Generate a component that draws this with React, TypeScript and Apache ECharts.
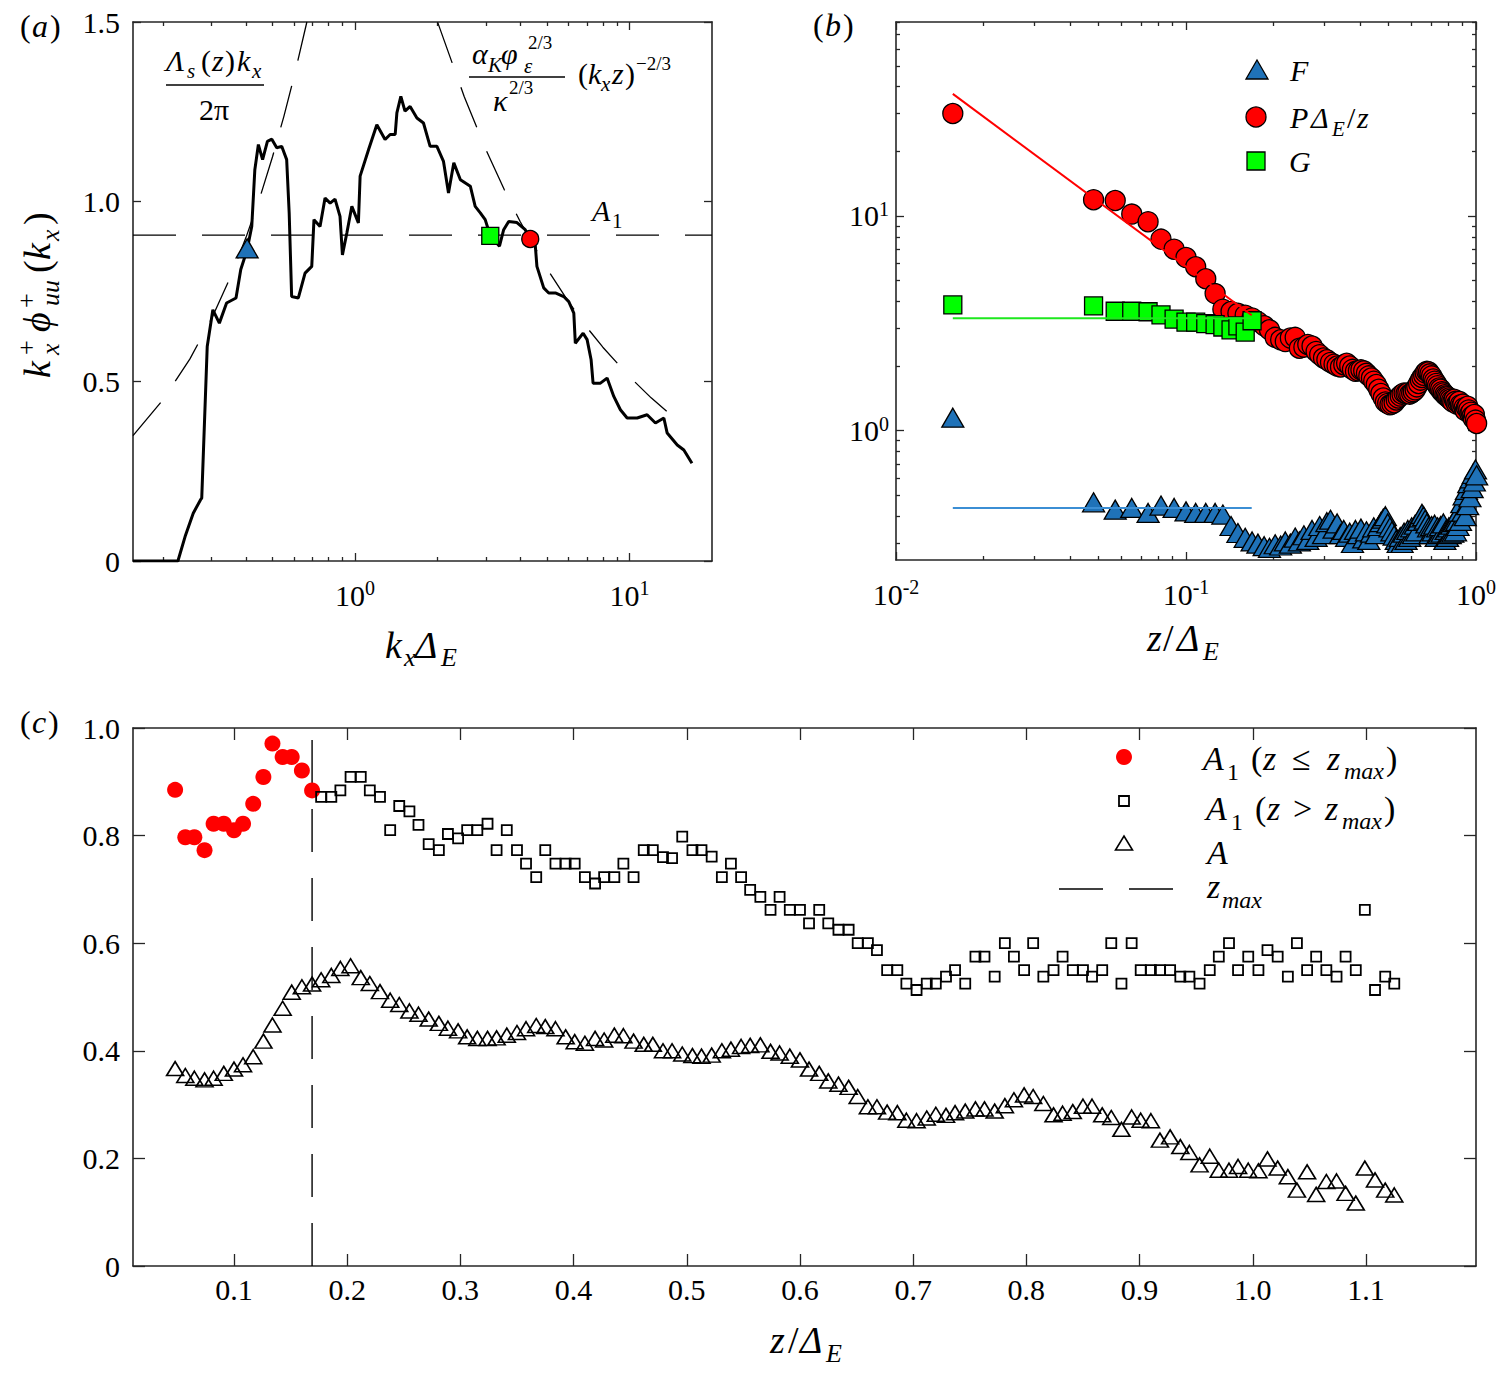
import { useEffect, useRef } from "react";
import * as echarts from "echarts";

const SERIF = "'Liberation Serif', 'Times New Roman', Times, serif";
const INK = "#000";
const FRAME = "#262626";
const BLUE = "#1f72b8";
const BLUE_LINE = "#3b8ed4";
const RED = "#ff0000";
const GREEN = "#00ff00";
const GREEN_LINE = "#1ee81e";

// ---------- (a) premultiplied spectrum ----------
const xRangeA = [0.155, 20];
const yTicksA = [0, 0.5, 1.0, 1.5];
const xMajorA = [1, 10];
const xMinorA = [0.2, 0.3, 0.4, 0.5, 0.6, 0.7, 0.8, 0.9, 2, 3, 4, 5, 6, 7, 8, 9];

const specK = [
  0.155, 0.226, 0.24, 0.257, 0.273, 0.276, 0.289, 0.303, 0.32, 0.34, 0.368, 0.383, 0.404, 0.42,
  0.431, 0.444, 0.46, 0.479, 0.497, 0.518, 0.54, 0.563, 0.575, 0.587, 0.621, 0.657, 0.695, 0.708,
  0.745, 0.777, 0.811, 0.845, 0.881, 0.899, 0.933, 0.973, 1.028, 1.043, 1.12, 1.2, 1.286, 1.342,
  1.4, 1.42, 1.468, 1.52, 1.587, 1.68, 1.775, 1.877, 1.987, 2.1, 2.19, 2.29, 2.42, 2.63, 2.74,
  2.86, 2.98, 3.11, 3.36, 3.48, 3.63, 3.89, 4.17, 4.35, 4.54, 4.6, 4.87, 5.08, 5.37, 5.76, 6.01,
  6.27, 6.35, 6.78, 7.01, 7.25, 7.37, 7.84, 8.29, 8.77, 9.27, 9.81, 10.67, 11.6, 12.44, 13.35,
  13.73, 14.94, 15.79, 16.9,
];
const specPhi = [
  0, 0, 0.068, 0.133, 0.17, 0.175, 0.597, 0.699, 0.662, 0.718, 0.732, 0.811, 0.866, 0.931,
  1.089, 1.159, 1.117, 1.168, 1.174, 1.15, 1.154, 1.117, 0.969, 0.736, 0.732, 0.801, 0.82, 0.95,
  0.931, 1.01, 0.996, 1.007, 0.959, 0.852, 0.913, 0.987, 0.941, 1.071, 1.145, 1.214, 1.173, 1.187,
  1.187, 1.247, 1.293, 1.252, 1.265, 1.233, 1.219, 1.154, 1.154, 1.112, 1.024, 1.108, 1.061, 1.043, 0.987,
  0.969, 0.95, 0.905, 0.876, 0.922, 0.945, 0.942, 0.922, 0.896, 0.876, 0.82, 0.76, 0.746, 0.746, 0.736, 0.722,
  0.69, 0.606, 0.634, 0.616, 0.56, 0.495, 0.495, 0.509, 0.458, 0.421, 0.398, 0.398, 0.407, 0.384, 0.398,
  0.356, 0.323, 0.309, 0.272,
];
// Λ_s(z) k_x / 2π
const fitLinK = [0.155, 0.2, 0.25, 0.3, 0.35, 0.4, 0.45, 0.5, 0.55, 0.6, 0.667];
const fitLinPhi = [0.349, 0.45, 0.5625, 0.675, 0.7875, 0.9, 1.0125, 1.125, 1.2375, 1.35, 1.5];
// α_K φ_ε^{2/3} κ^{-2/3} (k_x z)^{-2/3}
const fitKolK = [2.0, 2.5, 3, 3.5, 4, 5, 6, 7, 8, 10, 12, 14.5];
const fitKolPhi = [1.499, 1.292, 1.144, 1.033, 0.944, 0.814, 0.721, 0.65, 0.595, 0.513, 0.454, 0.4];
const a1Level = 0.907;
const crossF = [0.404, 0.87];
const crossG = [3.11, 0.905];
const crossP = [4.35, 0.896];

// ---------- (c) heights z/Δ_E and A values ----------
const zC = [
  0.048, 0.057, 0.065, 0.074, 0.082, 0.091, 0.1, 0.108, 0.117, 0.126,
  0.134, 0.143, 0.151, 0.16, 0.169, 0.177, 0.186, 0.194, 0.203, 0.212,
  0.22, 0.229, 0.238, 0.246, 0.255, 0.263, 0.272, 0.281, 0.289, 0.298,
  0.306, 0.315, 0.324, 0.332, 0.341, 0.35, 0.358, 0.367, 0.375, 0.384,
  0.393, 0.401, 0.41, 0.419, 0.427, 0.436, 0.444, 0.453, 0.462, 0.47,
  0.479, 0.487, 0.496, 0.505, 0.513, 0.522, 0.531, 0.539, 0.548, 0.556,
  0.565, 0.574, 0.582, 0.591, 0.6, 0.608, 0.617, 0.625, 0.634, 0.643,
  0.651, 0.66, 0.668, 0.677, 0.686, 0.694, 0.703, 0.712, 0.72, 0.729,
  0.737, 0.746, 0.755, 0.763, 0.772, 0.781, 0.789, 0.798, 0.806, 0.815,
  0.824, 0.832, 0.841, 0.85, 0.858, 0.867, 0.875, 0.884, 0.893, 0.901,
  0.91, 0.918, 0.927, 0.936, 0.944, 0.953, 0.962, 0.97, 0.979, 0.987,
  0.996, 1.005, 1.013, 1.022, 1.031, 1.039, 1.048, 1.056, 1.065, 1.074,
  1.082, 1.091, 1.099, 1.108, 1.117, 1.125,
];
const zMax = 0.169;
const a1Low = [0.885, 0.797, 0.797, 0.773, 0.822, 0.822, 0.81, 0.822, 0.859, 0.909, 0.971, 0.946, 0.946, 0.921, 0.884];
const a1High = [
  0.872, 0.872, 0.884, 0.909, 0.909, 0.884, 0.872, 0.81, 0.855, 0.845, 0.82, 0.784, 0.773, 0.803,
  0.795, 0.81, 0.81, 0.822, 0.773, 0.81, 0.773, 0.748, 0.723, 0.773, 0.748, 0.748, 0.748, 0.723,
  0.711, 0.723, 0.723, 0.748, 0.723, 0.773, 0.773, 0.76, 0.758, 0.798, 0.773, 0.773, 0.761, 0.723,
  0.748, 0.723, 0.699, 0.686, 0.662, 0.686, 0.662, 0.662, 0.637, 0.662, 0.637, 0.625, 0.625, 0.6,
  0.6, 0.587, 0.55, 0.55, 0.525, 0.513, 0.525, 0.525, 0.538, 0.55, 0.525, 0.575, 0.575, 0.538,
  0.6, 0.575, 0.55, 0.6, 0.538, 0.55, 0.575, 0.55, 0.55, 0.538, 0.55, 0.6, 0.525, 0.6,
  0.55, 0.55, 0.55, 0.55, 0.538, 0.538, 0.525, 0.55, 0.575, 0.6, 0.55, 0.575, 0.55, 0.587,
  0.575, 0.538, 0.6, 0.55, 0.575, 0.55, 0.538, 0.575, 0.55, 0.662, 0.513, 0.538, 0.525,
];
const aC = [
  0.367, 0.354, 0.349, 0.346, 0.349, 0.358, 0.366, 0.374, 0.389, 0.418, 0.448, 0.479, 0.509, 0.519,
  0.524, 0.532, 0.54, 0.553, 0.558, 0.536, 0.525, 0.51, 0.494, 0.486, 0.474, 0.468, 0.459, 0.451,
  0.442, 0.437, 0.426, 0.423, 0.423, 0.424, 0.429, 0.434, 0.441, 0.447, 0.445, 0.441, 0.426, 0.417,
  0.414, 0.423, 0.42, 0.429, 0.428, 0.418, 0.412, 0.412, 0.4, 0.4, 0.394, 0.391, 0.39, 0.392,
  0.4, 0.403, 0.408, 0.41, 0.411, 0.399, 0.396, 0.39, 0.383, 0.366, 0.358, 0.344, 0.338, 0.332,
  0.315, 0.296, 0.296, 0.286, 0.285, 0.271, 0.27, 0.275, 0.282, 0.28, 0.285, 0.288, 0.292, 0.292,
  0.288, 0.298, 0.309, 0.318, 0.315, 0.302, 0.281, 0.284, 0.287, 0.297, 0.297, 0.281, 0.276, 0.254,
  0.277, 0.271, 0.27, 0.234, 0.24, 0.222, 0.211, 0.188, 0.204, 0.178, 0.178, 0.185, 0.178, 0.177,
  0.199, 0.182, 0.166, 0.141, 0.175, 0.133, 0.157, 0.158, 0.135, 0.117, 0.182, 0.16, 0.141, 0.132,
];
const xRangeC = [0.0108, 1.1972];
const xTicksC = [0.1, 0.2, 0.3, 0.4, 0.5, 0.6, 0.7, 0.8, 0.9, 1.0, 1.1];
const yTicksC = [0, 0.2, 0.4, 0.6, 0.8, 1.0];

// ---------- (b) F, PΔ_E/z and G against z/Δ_E ----------
const zB = [0.0157, ...zC.slice(0, 112)];
const fB = [
  1.15,
  0.464, 0.429, 0.437, 0.414, 0.448, 0.437, 0.421, 0.414, 0.414, 0.414,
  0.407, 0.36, 0.334, 0.317, 0.305, 0.298, 0.29, 0.285, 0.296, 0.292,
  0.305, 0.298, 0.318, 0.305, 0.326, 0.31, 0.345, 0.32, 0.36, 0.33,
  0.375, 0.385, 0.35, 0.37, 0.33, 0.345, 0.32, 0.335, 0.3, 0.345,
  0.33, 0.35, 0.315, 0.34, 0.31, 0.335, 0.355, 0.33, 0.36, 0.375,
  0.39, 0.4, 0.37, 0.355, 0.34, 0.325, 0.31, 0.3, 0.32, 0.3,
  0.335, 0.31, 0.345, 0.32, 0.355, 0.33, 0.365, 0.34, 0.38, 0.395,
  0.41, 0.4, 0.385, 0.37, 0.355, 0.33, 0.36, 0.34, 0.365, 0.32,
  0.355, 0.33, 0.36, 0.335, 0.37, 0.31, 0.345, 0.32, 0.355, 0.33,
  0.365, 0.335, 0.375, 0.34, 0.38, 0.36, 0.42, 0.38, 0.46, 0.42,
  0.5, 0.4, 0.53, 0.45, 0.57, 0.49, 0.6, 0.54, 0.63, 0.58,
  0.66, 0.62,
];
const pB = [
  30.0,
  11.9, 11.8, 10.2, 9.4, 7.8, 7.0, 6.4, 5.8, 5.1, 4.35,
  3.68, 3.59, 3.52, 3.45, 3.35, 3.22, 3.08, 2.95, 2.72, 2.65,
  2.6, 2.7, 2.72, 2.42, 2.45, 2.52, 2.48, 2.34, 2.26, 2.18,
  2.14, 2.08, 2.04, 2.0, 1.98, 2.03, 2.06, 2.0, 1.93, 1.89,
  1.9, 1.92, 1.9, 1.85, 1.8, 1.76, 1.7, 1.64, 1.56, 1.49,
  1.42, 1.36, 1.34, 1.32, 1.33, 1.35, 1.39, 1.42, 1.45, 1.48,
  1.5, 1.49, 1.5, 1.48, 1.5, 1.52, 1.55, 1.6, 1.66, 1.72,
  1.77, 1.81, 1.86, 1.89, 1.88, 1.84, 1.8, 1.74, 1.7, 1.66,
  1.62, 1.58, 1.56, 1.52, 1.5, 1.47, 1.45, 1.44, 1.42, 1.4,
  1.38, 1.36, 1.4, 1.37, 1.33, 1.35, 1.37, 1.32, 1.3, 1.33,
  1.28, 1.24, 1.28, 1.3, 1.25, 1.2, 1.22, 1.17, 1.14, 1.19,
  1.12, 1.08,
];
const gB = [3.85, 3.81, 3.6, 3.6, 3.58, 3.46, 3.31, 3.2, 3.2, 3.15, 3.12, 3.04, 2.95, 3.08, 2.88, 3.25];
const fitZ = [0.0157, 0.1685];
const fitP = [37, 3.45];
const fitG = [3.34, 3.34];
const fitF = [0.437, 0.437];
const xRangeB = [0.01, 1];
const yRangeB = [0.25, 80];
const xMajorB = [0.01, 0.1, 1];
const xMinorB = [0.02, 0.03, 0.04, 0.05, 0.06, 0.07, 0.08, 0.09, 0.2, 0.3, 0.4, 0.5, 0.6, 0.7, 0.8, 0.9];
const yMajorB = [1, 10];
const yMinorB = [0.3, 0.4, 0.5, 0.6, 0.7, 0.8, 0.9, 2, 3, 4, 5, 6, 7, 8, 9, 20, 30, 40, 50, 60, 70, 80];

const lg = Math.log10;
const pairs = (xs: number[], ys: number[]) => ys.map((y, i) => [xs[i], y]);

const powRich = {
  b: { fontFamily: SERIF, fontSize: 30, lineHeight: 34, color: INK },
  s: { fontFamily: SERIF, fontSize: 20, lineHeight: 17, verticalAlign: "top", color: INK },
};
const powLabel = (v: number) => `{b|10}{s|${Math.round(v)}}`;

function frame(
  gridIndex: number,
  position: string,
  min: number,
  max: number,
  ticks: number[],
  len: number,
  showLine = true,
  label: any = null
) {
  return {
    type: "value",
    gridIndex,
    position,
    min,
    max,
    axisLine: { show: showLine, onZero: false, lineStyle: { color: FRAME, width: 1.6 } },
    axisTick: { show: true, inside: true, length: len, customValues: ticks, lineStyle: { color: FRAME, width: 1.3 } },
    axisLabel: label
      ? { show: true, color: INK, fontFamily: SERIF, fontSize: 30, ...label }
      : { show: false },
    splitLine: { show: false },
    minorTick: { show: false },
  };
}

function hiddenLog(gridIndex: number, min: number, max: number) {
  return { type: "log", logBase: 10, gridIndex, min, max, show: false, splitLine: { show: false } };
}

function tx(text: string, x: number, y: number, size: number, italic = false, align = "left") {
  return {
    type: "text",
    x,
    y,
    silent: true,
    z: 20,
    style: {
      text,
      fill: INK,
      font: `${italic ? "italic " : ""}${size}px ${SERIF}`,
      align,
      verticalAlign: "middle",
      textAlign: align,
      textVerticalAlign: "middle",
    },
  };
}

function seg(x1: number, y1: number, x2: number, y2: number, w = 1.3) {
  return { type: "line", silent: true, z: 20, shape: { x1, y1, x2, y2 }, style: { stroke: INK, lineWidth: w } };
}

const DASH = [43, 26];

function buildOption(): any {
  const fmtDec = (v: number) => (v === 0 ? "0" : v.toFixed(1));

  const xAxis = [
    hiddenLog(0, xRangeA[0], xRangeA[1]),
    frame(0, "bottom", lg(xRangeA[0]), lg(xRangeA[1]), xMajorA.map(lg), 8, true, {
      customValues: xMajorA.map(lg), formatter: powLabel, rich: powRich, margin: 17,
    }),
    frame(0, "bottom", lg(xRangeA[0]), lg(xRangeA[1]), xMinorA.map(lg), 4, false),
    frame(0, "top", lg(xRangeA[0]), lg(xRangeA[1]), xMajorA.map(lg), 8, true),
    frame(0, "top", lg(xRangeA[0]), lg(xRangeA[1]), xMinorA.map(lg), 4, false),

    hiddenLog(1, xRangeB[0], xRangeB[1]),
    frame(1, "bottom", lg(xRangeB[0]), lg(xRangeB[1]), xMajorB.map(lg), 8, true, {
      customValues: xMajorB.map(lg), formatter: powLabel, rich: powRich, margin: 17,
    }),
    frame(1, "bottom", lg(xRangeB[0]), lg(xRangeB[1]), xMinorB.map(lg), 4, false),
    frame(1, "top", lg(xRangeB[0]), lg(xRangeB[1]), xMajorB.map(lg), 8, true),
    frame(1, "top", lg(xRangeB[0]), lg(xRangeB[1]), xMinorB.map(lg), 4, false),

    frame(2, "bottom", xRangeC[0], xRangeC[1], xTicksC, 12, true, {
      customValues: xTicksC, formatter: (v: number) => v.toFixed(1), margin: 8, lineHeight: 30,
    }),
    frame(2, "top", xRangeC[0], xRangeC[1], xTicksC, 12, true),
  ];

  const yAxis = [
    frame(0, "left", 0, 1.5, yTicksA, 8, true, { customValues: yTicksA, formatter: fmtDec, margin: 13 }),
    frame(0, "right", 0, 1.5, yTicksA, 8, true),

    hiddenLog(1, yRangeB[0], yRangeB[1]),
    frame(1, "left", lg(yRangeB[0]), lg(yRangeB[1]), yMajorB.map(lg), 8, true, {
      customValues: yMajorB.map(lg), formatter: powLabel, rich: powRich, margin: 7,
    }),
    frame(1, "left", lg(yRangeB[0]), lg(yRangeB[1]), yMinorB.map(lg), 4, false),
    frame(1, "right", lg(yRangeB[0]), lg(yRangeB[1]), yMajorB.map(lg), 8, true),
    frame(1, "right", lg(yRangeB[0]), lg(yRangeB[1]), yMinorB.map(lg), 4, false),

    frame(2, "left", 0, 1, yTicksC, 12, true, { customValues: yTicksC, formatter: fmtDec, margin: 13 }),
    frame(2, "right", 0, 1, yTicksC, 12, true),
  ];

  const line = (name: string, data: any[], xi: number, yi: number, style: any, z = 3) => ({
    name, type: "line", xAxisIndex: xi, yAxisIndex: yi, data, symbol: "none", showSymbol: false,
    silent: true, z, lineStyle: style, clip: true,
  });
  const dots = (name: string, data: any[], xi: number, yi: number, symbol: string, size: any, item: any, z = 4) => ({
    name, type: "scatter", xAxisIndex: xi, yAxisIndex: yi, data, symbol, symbolSize: size,
    silent: true, z, clip: false, itemStyle: { opacity: 1, ...item },
  });

  const series = [
    // (a)
    line("spectrum", pairs(specK, specPhi), 0, 0, { color: INK, width: 3 }, 3),
    line("linear fit", pairs(fitLinK, fitLinPhi), 0, 0, { color: INK, width: 1.3, type: DASH }, 2),
    line("-2/3 fit", pairs(fitKolK, fitKolPhi), 0, 0, { color: INK, width: 1.3, type: DASH }, 2),
    line("A1 level", [[xRangeA[0], a1Level], [xRangeA[1], a1Level]], 0, 0, { color: INK, width: 1.3, type: DASH }, 2),
    dots("F cross", [crossF], 0, 0, "triangle", [22, 19], { color: BLUE, borderColor: INK, borderWidth: 1.3 }, 5),
    dots("G cross", [crossG], 0, 0, "rect", 17, { color: GREEN, borderColor: INK, borderWidth: 1.3 }, 5),
    dots("P cross", [crossP], 0, 0, "circle", 17, { color: RED, borderColor: INK, borderWidth: 1.3 }, 5),
    // (b)
    dots("F", pairs(zB, fB), 5, 2, "triangle", [22, 19], { color: BLUE, borderColor: INK, borderWidth: 1.3 }, 4),
    dots("PΔE/z", pairs(zB, pB), 5, 2, "circle", 20, { color: RED, borderColor: INK, borderWidth: 1.3 }, 5),
    dots("G", pairs(zB, gB), 5, 2, "rect", 18, { color: GREEN, borderColor: INK, borderWidth: 1.3 }, 6),
    line("P fit", pairs(fitZ, fitP), 5, 2, { color: RED, width: 2 }, 7),
    line("G fit", pairs(fitZ, fitG), 5, 2, { color: GREEN_LINE, width: 2 }, 7),
    line("F fit", pairs(fitZ, fitF), 5, 2, { color: BLUE_LINE, width: 2 }, 7),
    // (c)
    line("zmax", [[zMax, 0], [zMax, 1]], 10, 7, { color: INK, width: 1.4, type: DASH }, 1),
    dots("A1 (z<=zmax)", pairs(zC.slice(0, 15), a1Low), 10, 7, "circle", 16, { color: RED }, 4),
    dots("A1 (z>zmax)", pairs(zC.slice(15), a1High), 10, 7, "rect", 10, {
      color: "rgba(0,0,0,0)", borderColor: INK, borderWidth: 1.8,
    }, 4),
    dots("A", pairs(zC, aC), 10, 7, "triangle", [17, 14], {
      color: "rgba(0,0,0,0)", borderColor: INK, borderWidth: 1.6,
    }, 4),
  ];

  const yTitleA = {
    type: "group",
    x: 37,
    y: 292,
    rotation: Math.PI / 2,
    silent: true,
    children: [
      tx("k", -86, 0, 38, true),
      tx("+", -63, -11, 26),
      tx("x", -63, 13, 26, true),
      tx("ϕ", -40, 0, 38, true),
      tx("+", -16, -11, 26),
      tx("uu", -14, 13, 26, true),
      tx("(", 19, 0, 38),
      tx("k", 32, 0, 38, true),
      tx("x", 51, 13, 26, true),
      tx(")", 67, 0, 38),
    ],
  };

  const graphic = [
    // panel tags
    tx("(", 20, 26, 32), tx("a", 32, 26, 32, true), tx(")", 50, 26, 32),
    tx("(", 813, 25, 32), tx("b", 825, 25, 32, true), tx(")", 843, 25, 32),
    tx("(", 20, 722, 32), tx("c", 32, 722, 32, true), tx(")", 48, 722, 32),

    // (a) axis titles
    yTitleA,
    tx("k", 385, 645, 38, true), tx("x", 404, 657, 26, true),
    tx("Δ", 415, 645, 38, true), tx("E", 441, 657, 26, true),

    // (a) Λ_s(z)k_x / 2π
    tx("Λ", 166, 60, 30, true), tx("s", 187, 71, 21, true),
    tx("(", 201, 60, 30), tx("z", 212, 60, 30, true), tx(")", 225, 60, 30),
    tx("k", 237, 60, 30, true), tx("x", 252, 71, 21, true),
    seg(166, 85, 264, 85),
    tx("2π", 214, 109, 30, false, "center"),

    // (a) α_K φ_ε^{2/3} / κ^{2/3} (k_x z)^{-2/3}
    tx("α", 472, 53, 30, true), tx("K", 488, 65, 21, true),
    tx("φ", 501, 53, 30, true), tx("ε", 524, 66, 21, true), tx("2/3", 528, 42, 19),
    seg(469, 77, 565, 77),
    tx("κ", 493, 100, 30, true), tx("2/3", 509, 87, 19),
    tx("(", 578, 73, 30), tx("k", 588, 73, 30, true), tx("x", 601, 84, 21, true),
    tx("z", 612, 73, 30, true), tx(")", 625, 73, 30), tx("−2/3", 636, 63, 19),

    // (a) A1 label
    tx("A", 592, 210, 30, true), tx("1", 612, 221, 21),

    // (b) axis title
    tx("z", 1147, 638, 38, true), tx("/", 1163, 638, 38),
    tx("Δ", 1177, 638, 38, true), tx("E", 1203, 651, 26, true),

    // (b) legend
    { type: "polygon", silent: true, z: 20, shape: { points: [[1246, 79], [1268, 79], [1257, 60]] },
      style: { fill: BLUE, stroke: INK, lineWidth: 1.3 } },
    tx("F", 1290, 70, 30, true),
    { type: "circle", silent: true, z: 20, shape: { cx: 1256, cy: 117, r: 10 },
      style: { fill: RED, stroke: INK, lineWidth: 1.3 } },
    tx("P", 1290, 117, 30, true), tx("Δ", 1311, 117, 30, true), tx("E", 1332, 129, 21, true),
    tx("/", 1347, 117, 30), tx("z", 1357, 117, 30, true),
    { type: "rect", silent: true, z: 20, shape: { x: 1247, y: 152, width: 18, height: 18 },
      style: { fill: GREEN, stroke: INK, lineWidth: 1.3 } },
    tx("G", 1289, 161, 30, true),

    // (c) axis title
    tx("z", 770, 1340, 38, true), tx("/", 788, 1340, 38),
    tx("Δ", 800, 1340, 38, true), tx("E", 826, 1353, 26, true),

    // (c) legend
    { type: "circle", silent: true, z: 20, shape: { cx: 1124, cy: 757, r: 8 }, style: { fill: RED } },
    tx("A", 1203, 758, 34, true), tx("1", 1227, 772, 24),
    tx("(", 1251, 758, 34), tx("z", 1263, 758, 34, true), tx("≤", 1292, 758, 34),
    tx("z", 1327, 758, 34, true), tx("max", 1344, 771, 24, true), tx(")", 1386, 758, 34),

    { type: "rect", silent: true, z: 20, shape: { x: 1119, y: 796, width: 10, height: 10 },
      style: { fill: "none", stroke: INK, lineWidth: 1.8 } },
    tx("A", 1206, 808, 34, true), tx("1", 1231, 822, 24),
    tx("(", 1255, 808, 34), tx("z", 1267, 808, 34, true), tx(">", 1293, 808, 34),
    tx("z", 1325, 808, 34, true), tx("max", 1342, 821, 24, true), tx(")", 1384, 808, 34),

    { type: "polygon", silent: true, z: 20, shape: { points: [[1115.5, 850], [1132.5, 850], [1124, 836]] },
      style: { fill: "none", stroke: INK, lineWidth: 1.6 } },
    tx("A", 1207, 852, 34, true),

    seg(1059, 889, 1103, 889, 1.4), seg(1129, 889, 1173, 889, 1.4),
    tx("z", 1207, 886, 34, true), tx("max", 1222, 900, 24, true),
  ];

  return {
    animation: false,
    backgroundColor: "#ffffff",
    textStyle: { fontFamily: SERIF },
    grid: [
      { left: 133, top: 22, width: 579, height: 539, containLabel: false, outerBoundsMode: "none" },
      { left: 896, top: 22, width: 580, height: 538, containLabel: false, outerBoundsMode: "none" },
      { left: 133, top: 728, width: 1343, height: 538, containLabel: false, outerBoundsMode: "none" },
    ],
    xAxis,
    yAxis,
    series,
    graphic: { elements: graphic },
  };
}

export default function App() {
  const chartRef = useRef<HTMLDivElement | null>(null);

  useEffect(() => {
    if (!chartRef.current) return;
    document.body.style.margin = "0";
    const chart = echarts.init(chartRef.current, undefined, { renderer: "svg" });
    chart.setOption(buildOption());
    return () => chart.dispose();
  }, []);

  return <div ref={chartRef} style={{ width: 1499, height: 1377, background: "#fff" }} />;
}
